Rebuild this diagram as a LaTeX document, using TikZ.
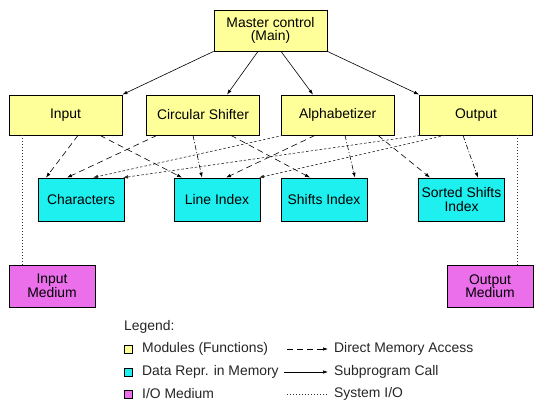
\documentclass[tikz,border=0pt]{standalone}
\usepackage{fontspec}
\setmainfont{Liberation Sans}
\usetikzlibrary{arrows.meta}
\definecolor{modyellow}{RGB}{255,255,153}
\definecolor{datacyan}{RGB}{30,240,240}
\definecolor{iomag}{RGB}{235,110,235}
\begin{document}
\begin{tikzpicture}[x=1pt,y=-1pt,
  font=\fontsize{13.9}{13.5}\selectfont,
  box/.style={draw=black,line width=0.8pt,align=center,inner sep=0pt,anchor=center},
  modbox/.style={box,fill=modyellow,minimum width=113pt,minimum height=40pt},
  databox/.style={box,fill=datacyan,minimum width=86pt,minimum height=43pt},
  iobox/.style={box,fill=iomag,minimum width=86pt,minimum height=42pt},
  keybox/.style={draw=black,line width=0.7pt,minimum size=8pt,inner sep=0pt},
  keytext/.style={anchor=west,inner sep=0pt,text=black!85},
  tip/.style={-{Latex[length=5pt,width=3.5pt]}},
  call/.style={tip,line width=0.6pt},
  dma/.style={tip,line width=0.6pt,dash pattern=on 6pt off 4pt},
  dmadot/.style={tip,line width=0.6pt,dash pattern=on 5pt off 2pt on 1pt off 2pt},
  dmafine/.style={tip,line width=0.6pt,dash pattern=on 2.5pt off 2pt,black!85},
  sysio/.style={line width=1pt,dash pattern=on 1pt off 2pt,black!80}]
\fill[white] (0,0) rectangle (547,409);
\useasboundingbox (0,0) rectangle (547,409);

% modules
\node[modbox,minimum height=41pt] (master) at (270.5,30.5) {Master control\\(Main)};
\node[modbox] (input) at (65.5,115) {Input};
\node[modbox] (cs) at (203,115) {Circular Shifter};
\node[modbox] (alph) at (337.7,115) {Alphabetizer};
\node[modbox] (out) at (476,115) {Output};

% data
\node[databox] (chars) at (81,199.5) {Characters};
\node[databox] (lineidx) at (217,199.5) {Line Index};
\node[databox] (shifts) at (324,199.5) {Shifts Index};
\node[databox] (sorted) at (461.5,199.5) {Sorted Shifts\\Index};

% I/O media
\node[iobox] (inmed) at (52,286) {Input\\Medium};
\node[iobox] (outmed) at (490,286) {Output\\Medium};

% subprogram calls
\draw[call] (master.south west) -- (input.north east);
\draw[call] ([xshift=-12.5pt]master.south) -- ([xshift=24pt]cs.north);
\draw[call] ([xshift=10.5pt]master.south) -- ([xshift=-24.7pt]alph.north);
\draw[call] (master.south east) -- (out.north west);

% direct memory access
\draw[dma] ([xshift=12.5pt]input.south) -- ([xshift=-35pt]chars.north);
\draw[dma] ([xshift=34.5pt]input.south) -- ([xshift=-35pt]lineidx.north);
\draw[dma] ([xshift=-46pt]cs.south) -- ([xshift=-14pt]chars.north);
\draw[dma] ([xshift=28pt]cs.south) -- ([xshift=-14pt]shifts.north);
\draw[dma] ([xshift=-22.7pt]alph.south) -- ([xshift=9pt]lineidx.north);
\draw[dma] ([xshift=40.3pt]alph.south) -- ([xshift=-31.5pt]sorted.north);

\draw[dmadot] ([xshift=-10pt]cs.south) -- ([xshift=-15pt]lineidx.north);
\draw[dmadot] ([xshift=7.3pt]alph.south) -- ([xshift=31pt]shifts.north);
\draw[dmadot] ([xshift=-13pt]out.south) -- ([xshift=16.5pt]sorted.north);

\draw[dmafine] ([xshift=-54.7pt]alph.south) -- ([xshift=12pt]chars.north);
\draw[dmafine] ([xshift=-56pt]out.south) -- ([xshift=42pt]chars.north);
\draw[dmafine] ([xshift=-31pt]out.south) -- ([xshift=42pt]lineidx.north);

% system I/O
\draw[sysio] ([xshift=-43.5pt]input.south) -- ([xshift=-30pt]inmed.north);
\draw[sysio] ([xshift=41pt]out.south) -- ([xshift=27pt]outmed.north);

% legend
\node[keytext] (legend) at (124,327) {Legend:};
\node[keybox,fill=modyellow] (k1) at (128,349) {};
\node[keybox,fill=datacyan] (k2) at (128,372) {};
\node[keybox,fill=iomag] (k3) at (128,394) {};
\node[keytext] (t1) at (142,349) {Modules (Functions)};
\node[keytext] (t2) at (142,372) {Data Repr. in Memory};
\node[keytext] (t3) at (142,394) {I/O Medium};
\coordinate (l1a) at (287,349); \coordinate (l1b) at (328,349);
\coordinate (l2a) at (284,372); \coordinate (l2b) at (328,372);
\coordinate (l3a) at (287,394); \coordinate (l3b) at (328,394);
\draw[dma] (l1a) -- (l1b);
\draw[call] (l2a) -- (l2b);
\draw[sysio] (l3a) -- (l3b);
\node[keytext] (u1) at (334,349) {Direct Memory Access};
\node[keytext] (u2) at (334,372) {Subprogram Call};
\node[keytext] (u3) at (334,394) {System I/O};
\end{tikzpicture}
\end{document}
